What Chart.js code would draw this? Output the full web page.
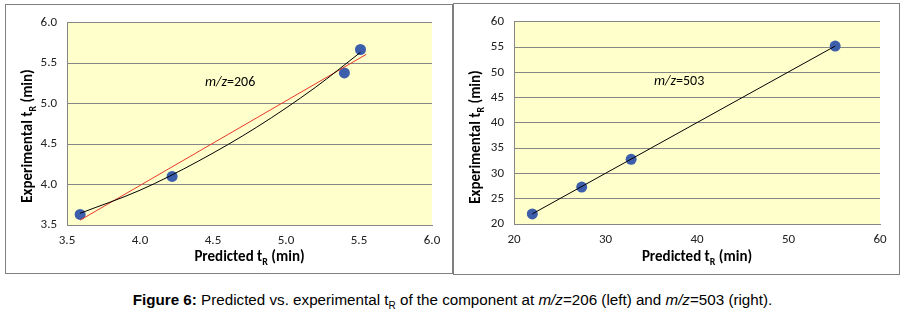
<!DOCTYPE html>
<html>
<head>
<meta charset="utf-8">
<script src="https://cdn.jsdelivr.net/npm/chart.js@4.4.1/dist/chart.umd.min.js"></script>
<style>
  html, body { margin: 0; padding: 0; background: #fff; width: 905px; height: 312px; overflow: hidden; }
  .panel { position: absolute; border: 1px solid #808080; background: #fff; }
  #p1 { left: 5px; top: 4px; width: 446px; height: 268px; }
  #p2 { left: 453px; top: 3px; width: 445px; height: 270px; }
  .panel canvas { display: block; }
  #caption { position: absolute; left: 0; width: 905px; top: 291px; text-align: center;
    font-family: "Liberation Sans", Arial, sans-serif; font-size: 15.2px; color: #000; white-space: nowrap; }
  #caption b { font-weight: bold; }
  #caption sub { font-size: 10px; vertical-align: -4px; line-height: 0; }
</style>
</head>
<body>
<div class="panel" id="p1"><canvas id="c1" width="446" height="268"></canvas></div>
<div class="panel" id="p2"><canvas id="c2" width="445" height="270"></canvas></div>
<div id="caption"><b>Figure 6:</b> Predicted vs. experimental t<sub>R</sub> of the component at <i>m/z</i>=206 (left) and <i>m/z</i>=503 (right).</div>
<script>
// ---------- DATA: m/z = 206 ----------
const predicted206    = [3.59, 4.22, 5.40, 5.51];
const experimental206 = [3.63, 4.10, 5.38, 5.67];
// linear trendline (red), endpoints
const linX206 = [3.59, 5.55];
const linY206 = [3.56, 5.61];
// polynomial trendline (black)
const polyX206 = [3.59, 4.00, 4.40, 4.80, 5.20, 5.51];
const polyY206 = [3.645, 3.93, 4.29, 4.71, 5.20, 5.635];
const xTicks206 = ['3.5', '4.0', '4.5', '5.0', '5.5', '6.0'];
const yTicks206 = ['3.5', '4.0', '4.5', '5.0', '5.5', '6.0'];

// ---------- DATA: m/z = 503 ----------
const predicted503    = [22.0, 27.4, 32.8, 55.1];
const experimental503 = [22.0, 27.3, 32.8, 55.2];
const linX503 = [22.0, 55.1];
const linY503 = [22.0, 55.2];
const xTicks503 = ['20', '30', '40', '50', '60'];
const yTicks503 = ['20', '25', '30', '35', '40', '45', '50', '55', '60'];

const pts = (xs, ys) => xs.map((x, i) => ({ x: x, y: ys[i] }));
const tickVals = arr => arr.map(Number);

const PLOT_BG = '#FFFFCC';
const GRID = '#868686';
const MARKER = '#3C5EAB';
const TICK_FONT = { family: 'Carlito, Calibri, "Open Sans", sans-serif', size: 13 };
const TITLE_FAMILY = 'Carlito, Calibri, "Open Sans", sans-serif';

const decor = {
  id: 'decor',
  beforeDraw(chart) {
    const a = chart.chartArea, ctx = chart.ctx;
    ctx.save();
    ctx.fillStyle = PLOT_BG;
    ctx.fillRect(a.left, a.top, a.right - a.left, a.bottom - a.top);
    ctx.restore();
  },
  afterDraw(chart, args, opts) {
    const a = chart.chartArea, ctx = chart.ctx;
    const drawSubTitle = (pre, cx, cy, rot) => {
      ctx.save();
      ctx.translate(cx, cy);
      ctx.rotate(rot);
      const big = 'bold 15px ' + TITLE_FAMILY, small = 'bold 10px ' + TITLE_FAMILY;
      ctx.fillStyle = '#000';
      ctx.textBaseline = 'middle';
      ctx.font = big;
      const post = ' (min)';
      const w1 = ctx.measureText(pre).width, w3 = ctx.measureText(post).width;
      ctx.font = small;
      const w2 = ctx.measureText('R').width;
      let x = -(w1 + w2 + w3) / 2;
      ctx.font = big; ctx.textAlign = 'left';
      ctx.fillText(pre, x, 0); x += w1;
      ctx.font = small; ctx.fillText('R', x, 5); x += w2;
      ctx.font = big; ctx.fillText(post, x, 0);
      ctx.restore();
    };
    drawSubTitle('Predicted t', (a.left + a.right) / 2, opts.xTitleY, 0);
    drawSubTitle('Experimental t', opts.yTitleX, opts.yTitleY, -Math.PI / 2);
    ctx.save();
    ctx.fillStyle = '#000';
    ctx.textBaseline = 'middle';
    ctx.textAlign = 'left';
    let x = opts.annX, y = opts.annY;
    ctx.font = 'italic 14px ' + TITLE_FAMILY;
    ctx.fillText('m/z', x, y);
    x += ctx.measureText('m/z').width;
    ctx.font = '14px ' + TITLE_FAMILY;
    ctx.fillText(opts.annText, x, y);
    ctx.restore();
  }
};

function makeChart(id, cfg) {
  const ticksX = tickVals(cfg.xTicks), ticksY = tickVals(cfg.yTicks);
  return new Chart(document.getElementById(id), {
    type: 'scatter',
    data: { datasets: cfg.datasets },
    options: {
      responsive: false,
      animation: false,
      events: [],
      layout: { padding: { top: 13, right: cfg.padRight, bottom: 0, left: 0 } },
      plugins: {
        legend: { display: false },
        tooltip: { enabled: false },
        decor: cfg.decor
      },
      scales: {
        x: {
          type: 'linear',
          min: ticksX[0], max: ticksX[ticksX.length - 1],
          afterBuildTicks: ax => { ax.ticks = ticksX.map(v => ({ value: v })); },
          afterFit: ax => { ax.height = cfg.xHeight; },
          grid: { display: false, drawTicks: false },
          border: { display: true, color: GRID, width: 1 },
          ticks: { color: '#222', font: TICK_FONT, padding: 8, maxRotation: 0,
                   callback: (v, i) => cfg.xTicks[i] }
        },
        y: {
          type: 'linear',
          min: ticksY[0], max: ticksY[ticksY.length - 1],
          afterBuildTicks: ax => { ax.ticks = ticksY.map(v => ({ value: v })); },
          afterFit: ax => { ax.width = cfg.yWidth; },
          grid: { display: true, color: GRID, lineWidth: 1, drawTicks: false },
          border: { display: true, color: GRID, width: 1 },
          ticks: { color: '#222', font: TICK_FONT, padding: 10,
                   callback: (v, i) => cfg.yTicks[i] }
        }
      }
    },
    plugins: [decor]
  });
}

const markerDs = (xs, ys) => ({
  data: pts(xs, ys), showLine: false, pointRadius: 5.5, pointBorderWidth: 0,
  pointBackgroundColor: MARKER, pointBorderColor: MARKER, order: 2
});
const lineDs = (xs, ys, color, tension) => ({
  data: pts(xs, ys), showLine: true, pointRadius: 0, borderColor: color,
  borderWidth: 1, tension: tension, cubicInterpolationMode: tension ? 'monotone' : 'default', order: 1
});

makeChart('c1', {
  xTicks: xTicks206, yTicks: yTicks206, padRight: 20, xHeight: 48, yWidth: 61,
  datasets: [
    markerDs(predicted206, experimental206),
    lineDs(polyX206, polyY206, '#000000', 0.4),
    lineDs(linX206, linY206, '#E8392B', 0)
  ],
  decor: { xTitleY: 252, yTitleX: 22, yTitleY: 131, annX: 199, annY: 77, annText: '=206' }
});

makeChart('c2', {
  xTicks: xTicks503, yTicks: yTicks503, padRight: 19, xHeight: 50, yWidth: 60,
  datasets: [
    markerDs(predicted503, experimental503),
    lineDs(linX503, linY503, '#000000', 0)
  ],
  decor: { xTitleY: 253, yTitleX: 22, yTitleY: 133, annX: 200, annY: 77, annText: '=503' }
});
</script>
</body>
</html>
